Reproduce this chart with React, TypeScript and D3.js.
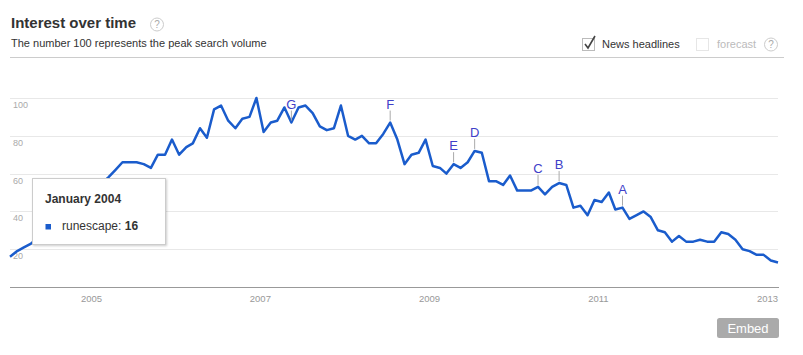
import { useCallback, useEffect, useRef } from 'react';

import { line, scaleLinear, scaleTime, select, timeMonth } from 'd3';

// monthly interest for "runescape", Jan 2004 .. Feb 2013
const startMonth = new Date(2004, 0, 15);
const runescape = [
  16, 19, 21, 23, 26, 30, 33, 36, 39, 42, 46, 49, 52, 55, 58, 62, 66, 66, 66, 65,
  63, 70, 70, 78, 70, 74, 76, 84, 79, 94, 96, 88, 84, 89, 90, 100, 82, 87, 88, 95,
  87, 95, 96, 92, 85, 83, 84, 96, 80, 78, 80, 76, 76, 81, 87, 78, 65, 70, 71, 78,
  64, 63, 60, 65, 63, 66, 72, 71, 56, 56, 54, 59, 51, 51, 51, 53, 49, 53, 55, 54,
  42, 43, 38, 46, 45, 50, 41, 42, 36, 38, 40, 37, 30, 29, 24, 27, 24, 24, 25, 24,
  24, 29, 28, 25, 20, 19, 17, 17, 14, 13,
];

// news headline markers (letter, month index from Jan 2004)
const eventLetters = ['G', 'F', 'E', 'D', 'C', 'B', 'A'];
const eventMonths = [40, 54, 63, 66, 75, 78, 87];

const yTicks = [20, 40, 60, 80, 100];
const xTickYears = [2005, 2007, 2009, 2011, 2013];

const font = 'Arial, "Liberation Sans", sans-serif';

type Point = { date: Date; value: number };

export default function App() {
  const containerRef = useRef<HTMLDivElement>(null);

  const initChart = useCallback(() => {
    const container = containerRef.current;
    if (!container) return;

    const width = 803,
      height = 355,
      left = 10,
      right = 778,
      top = 98,
      bottom = 287;

    const div = select(container);
    div.select('svg').remove();

    const svg = div
      .append('svg')
      .attr('width', width)
      .attr('height', height)
      .style('display', 'block')
      .style('font-family', font);

    const points: Point[] = runescape.map((value, i) => ({
      date: timeMonth.offset(startMonth, i),
      value,
    }));

    const x = scaleTime()
      .domain([points[0].date, points[points.length - 1].date])
      .range([left, right]);
    const y = scaleLinear().domain([0, 100]).range([bottom, top]);

    // header
    svg
      .append('text')
      .attr('x', 11)
      .attr('y', 28)
      .attr('font-size', 15)
      .attr('font-weight', 700)
      .attr('fill', '#333')
      .text('Interest over time');
    const help = (cx: number, cy: number) => {
      svg
        .append('circle')
        .attr('cx', cx)
        .attr('cy', cy)
        .attr('r', 6.5)
        .attr('fill', 'white')
        .attr('stroke', '#ccc');
      svg
        .append('text')
        .attr('x', cx)
        .attr('y', cy + 3.5)
        .attr('text-anchor', 'middle')
        .attr('font-size', 10)
        .attr('fill', '#aaa')
        .text('?');
    };
    help(157, 24.5);
    svg
      .append('text')
      .attr('x', 11)
      .attr('y', 47)
      .attr('font-size', 11)
      .attr('fill', '#333')
      .text('The number 100 represents the peak search volume');

    // checkboxes
    svg
      .append('rect')
      .attr('x', 582.5)
      .attr('y', 38.5)
      .attr('width', 12)
      .attr('height', 12)
      .attr('fill', 'white')
      .attr('stroke', '#bbb');
    svg
      .append('path')
      .attr('d', 'M585,44 L588,48 L595,36')
      .attr('fill', 'none')
      .attr('stroke', '#444')
      .attr('stroke-width', 1.6);
    svg
      .append('text')
      .attr('x', 602)
      .attr('y', 48)
      .attr('font-size', 11)
      .attr('fill', '#333')
      .text('News headlines');
    svg
      .append('rect')
      .attr('x', 696.5)
      .attr('y', 38.5)
      .attr('width', 12)
      .attr('height', 12)
      .attr('fill', 'white')
      .attr('stroke', '#e6e6e6');
    svg
      .append('text')
      .attr('x', 717)
      .attr('y', 48)
      .attr('font-size', 11)
      .attr('fill', '#bbb')
      .text('forecast');
    help(771, 44.5);

    svg
      .append('line')
      .attr('x1', 10)
      .attr('x2', 784)
      .attr('y1', 57.5)
      .attr('y2', 57.5)
      .attr('stroke', '#ccc');

    // grid + y labels
    const grid = svg.append('g');
    grid
      .selectAll('line')
      .data(yTicks)
      .join('line')
      .attr('x1', left)
      .attr('x2', right)
      .attr('y1', (d) => Math.round(y(d)) + 0.5)
      .attr('y2', (d) => Math.round(y(d)) + 0.5)
      .attr('stroke', '#e8e8e8');
    grid
      .selectAll('text')
      .data(yTicks)
      .join('text')
      .attr('x', left + 3)
      .attr('y', (d) => y(d) + 10)
      .attr('font-size', 9)
      .attr('fill', '#aaa')
      .text((d) => d);

    // x axis
    svg
      .append('line')
      .attr('x1', left)
      .attr('x2', right + 1)
      .attr('y1', bottom + 0.5)
      .attr('y2', bottom + 0.5)
      .attr('stroke', '#999');
    svg
      .append('g')
      .selectAll('text')
      .data(xTickYears)
      .join('text')
      .attr('x', (d) => x(new Date(d, 0, 1)))
      .attr('y', 301.5)
      .attr('text-anchor', 'middle')
      .attr('font-size', 9.5)
      .attr('fill', '#999')
      .text((d) => d);

    // series line
    const path = line<Point>()
      .x((d) => x(d.date))
      .y((d) => y(d.value));
    svg
      .append('path')
      .datum(points)
      .attr('d', path)
      .attr('fill', 'none')
      .attr('stroke', '#1a5ccc')
      .attr('stroke-width', 2.5)
      .attr('stroke-linejoin', 'round');

    // news markers
    const markers = svg
      .append('g')
      .selectAll('g')
      .data(eventMonths.map((m, i) => ({ p: points[m], letter: eventLetters[i] })))
      .join('g')
      .attr('transform', (d) => `translate(${x(d.p.date)},${y(d.p.value)})`);
    markers
      .append('line')
      .attr('y1', -2)
      .attr('y2', -12)
      .attr('stroke', '#aaa');
    markers
      .append('text')
      .attr('y', -14)
      .attr('text-anchor', 'middle')
      .attr('font-size', 13)
      .attr('fill', '#4040c8')
      .text((d) => d.letter);

    // tooltip
    const defs = svg.append('defs');
    defs
      .append('filter')
      .attr('id', 'tipShadow')
      .attr('x', '-10%')
      .attr('y', '-10%')
      .attr('width', '130%')
      .attr('height', '130%')
      .append('feDropShadow')
      .attr('dx', 1)
      .attr('dy', 1)
      .attr('stdDeviation', 1.2)
      .attr('flood-opacity', 0.2);
    const tip = svg.append('g').attr('transform', 'translate(32.5,178.5)');
    tip
      .append('rect')
      .attr('width', 133)
      .attr('height', 66)
      .attr('fill', 'white')
      .attr('stroke', '#ccc')
      .attr('filter', 'url(#tipShadow)');
    tip
      .append('text')
      .attr('x', 12.5)
      .attr('y', 24)
      .attr('font-size', 12)
      .attr('font-weight', 700)
      .attr('fill', '#333')
      .text('January 2004');
    tip
      .append('rect')
      .attr('x', 13)
      .attr('y', 45.5)
      .attr('width', 5.5)
      .attr('height', 5.5)
      .attr('fill', '#1a5ccc');
    const label = tip
      .append('text')
      .attr('x', 29.5)
      .attr('y', 51)
      .attr('font-size', 12)
      .attr('fill', '#333');
    label.append('tspan').text('runescape: ');
    label.append('tspan').attr('font-weight', 700).text(points[0].value);

    // embed button
    svg
      .append('rect')
      .attr('x', 717)
      .attr('y', 318)
      .attr('width', 62)
      .attr('height', 20)
      .attr('rx', 2.5)
      .attr('fill', '#aaa');
    svg
      .append('text')
      .attr('x', 748)
      .attr('y', 333)
      .attr('text-anchor', 'middle')
      .attr('font-size', 13)
      .attr('fill', 'white')
      .text('Embed');
  }, []);

  const destroyChart = useCallback(() => {
    const container = containerRef.current;
    if (!container) return;
    select(container).select('svg').remove();
  }, []);

  useEffect(() => {
    initChart();
    return destroyChart;
  }, [destroyChart, initChart]);

  return (
    <div
      ref={containerRef}
      style={{ position: 'absolute', left: 0, top: 0, background: 'white' }}
    />
  );
}
